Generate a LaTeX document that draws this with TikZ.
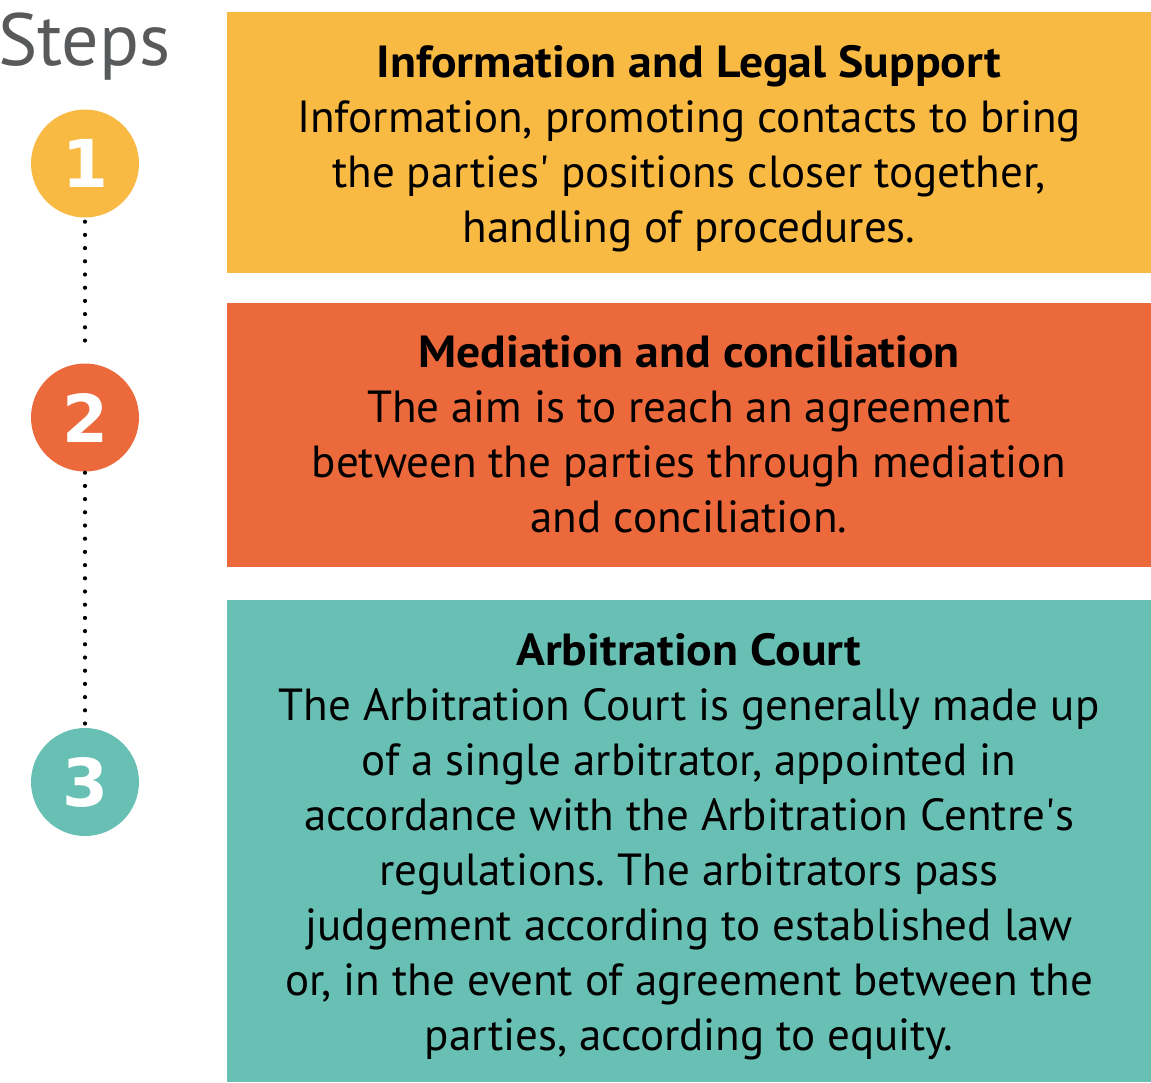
\documentclass[tikz,border=0pt]{standalone}
\usepackage{fontspec}
\setmainfont{PT Sans}[BoldFeatures={FakeStretch=1.06}]
\newfontfamily\digitfont{DejaVu Sans}
\definecolor{cyellow}{HTML}{F9BA44}
\definecolor{corange}{HTML}{EC693C}
\definecolor{cteal}{HTML}{68C0B4}
\definecolor{cgray}{HTML}{58595B}
\frenchspacing
\begin{document}
\begin{tikzpicture}[x=1pt,y=-1pt,
  stepcircle/.style={circle,minimum size=108pt,inner sep=0pt,text=white,
    font=\digitfont\bfseries\fontsize{66}{66}\selectfont},
  stepbox/.style={rectangle,anchor=north west,inner sep=0pt,minimum width=924pt},
  boxtext/.style={anchor=north,inner sep=0pt,align=center,text=black,
    font=\frenchspacing\fontsize{45}{55}\selectfont},
  dotline/.style={line width=4.2pt,line cap=round,dash pattern=on 0pt off 13.2pt}]
\useasboundingbox (0,0) rectangle (1151,1082);
\node[anchor=base west,inner sep=0pt,text=cgray,font=\fontsize{74}{74}\selectfont] (title) at (-2,65) {Steps};
\node[stepbox,fill=cyellow,minimum height=261pt] (b1) at (227,12) {};
\node[stepbox,fill=corange,minimum height=264pt] (b2) at (227,303) {};
\node[stepbox,fill=cteal,minimum height=482pt] (b3) at (227,600) {};
\node[boxtext] (t1) at (689,45) {\textbf{Information and Legal Support}\\Information, promoting contacts to bring\\the parties\textquotesingle\ positions closer together,\\handling of procedures.};
\node[boxtext] (t2) at (689,335) {\textbf{Mediation and conciliation}\\The aim is to reach an agreement\\between the parties through mediation\\and conciliation.};
\node[boxtext] (t3) at (689,633) {\textbf{Arbitration Court}\\The Arbitration Court is generally made up\\of a single arbitrator, appointed in\\accordance with the Arbitration Centre\textquotesingle s\\regulations. The arbitrators pass\\judgement according to established law\\or, in the event of agreement between the\\parties, according to equity.};
\node[stepcircle,fill=cyellow] (c1) at (85,163.5) {1};
\node[stepcircle,fill=corange] (c2) at (85,417.5) {2};
\node[stepcircle,fill=cteal] (c3) at (85,782) {3};
\draw[dotline] ([yshift=-4pt]c1.south) -- ([yshift=12pt]c2.north);
\draw[dotline] ([yshift=-1pt]c2.south) -- ([yshift=4pt]c3.north);
\end{tikzpicture}
\end{document}
